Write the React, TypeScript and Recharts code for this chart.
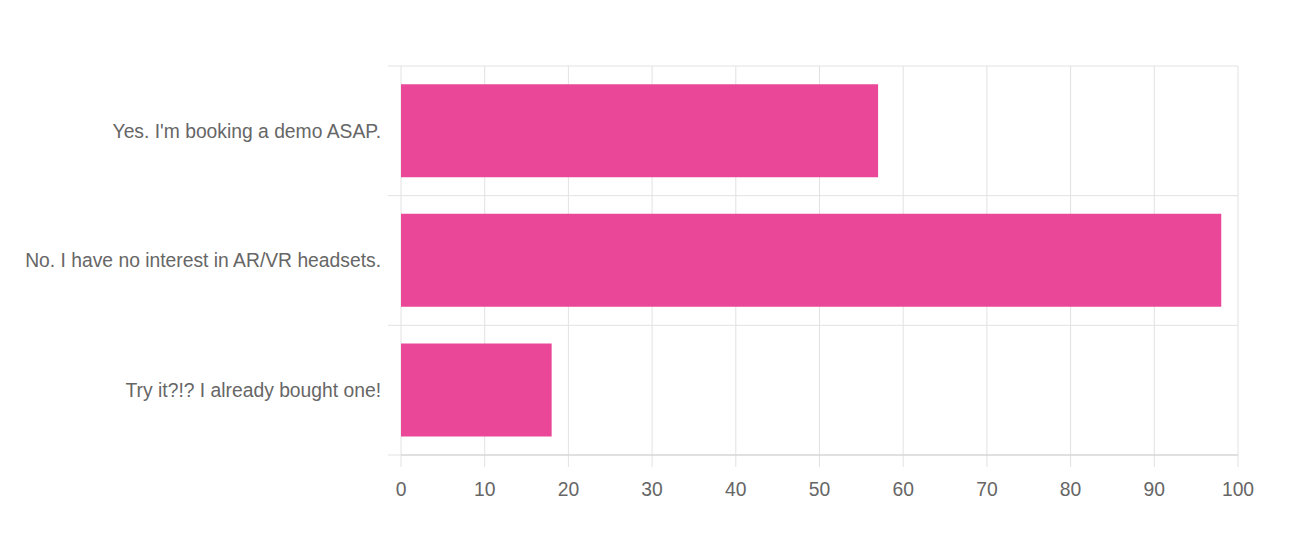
import { BarChart, Bar, XAxis, YAxis, CartesianGrid } from 'recharts';

const answers = [
  'Yes. I\'m booking a demo ASAP.',
  'No. I have no interest in AR/VR headsets.',
  'Try it?!? I already bought one!',
];
const counts = [57, 98, 18];
const xTicks = [0, 10, 20, 30, 40, 50, 60, 70, 80, 90, 100];

const data = answers.map((answer, i) => ({ answer, count: counts[i] }));

const font = '"Liberation Sans", Arial, Helvetica, sans-serif';

// horizontal grid lines sit on the band edges, not the band centres
const bandEdges = ({ offset }: any) => {
  const n = answers.length;
  return Array.from({ length: n + 1 }, (_, i) => offset.top + (offset.height * i) / n);
};

export default function App() {
  return (
    <div style={{ position: 'absolute', left: 0, top: 0, fontFamily: font }}>
      <BarChart
        width={1292}
        height={540}
        data={data}
        layout="vertical"
        margin={{ top: 66, right: 54, left: 0, bottom: 25 }}
        barCategoryGap="14%"
      >
        <CartesianGrid
          x={388}
          y={66}
          width={850}
          height={401}
          stroke="#e2e2e2"
          horizontalCoordinatesGenerator={bandEdges}
        />
        <XAxis
          type="number"
          domain={[0, 100]}
          ticks={xTicks}
          interval={0}
          height={60}
          axisLine={{ stroke: '#cfcfcf' }}
          tickLine={false}
          tickSize={12}
          tickMargin={15}
          tick={{ fill: '#666666', fontSize: 19.3, fontFamily: font }}
        />
        <YAxis
          type="category"
          dataKey="answer"
          width={401}
          axisLine={false}
          tickLine={false}
          tickSize={0}
          tickMargin={20}
          tick={{ fill: '#666666', fontSize: 19.3, fontFamily: font }}
        />
        <Bar dataKey="count" fill="#EA4798" isAnimationActive={false} />
      </BarChart>
    </div>
  );
}
